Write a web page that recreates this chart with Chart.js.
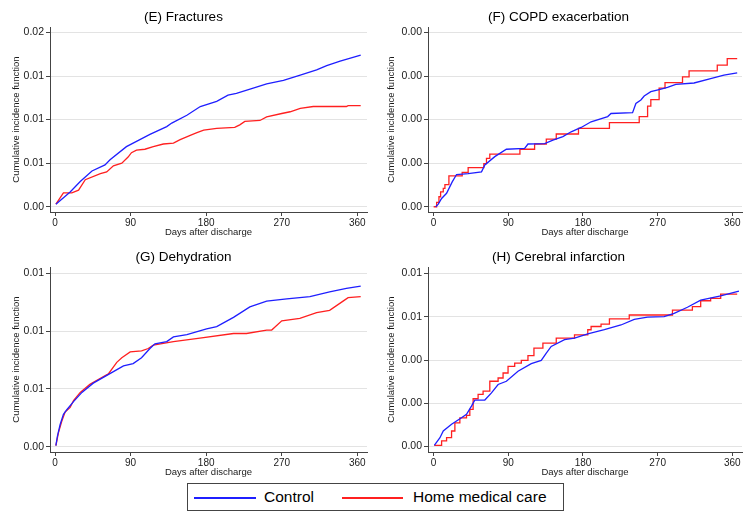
<!DOCTYPE html>
<html>
<head>
<meta charset="utf-8">
<script src="https://cdn.jsdelivr.net/npm/chart.js@4/dist/chart.umd.min.js"></script>
<style>
  body { margin: 0; background: #fff; }
  #wrap { position: relative; width: 750px; height: 514px; background: #fff; }
  canvas { position: absolute; }
  #legend {
    position: absolute; left: 187px; top: 483px; width: 377px; height: 28px;
    border: 1px solid #444; box-sizing: border-box;
    font-family: 'Liberation Sans', Arial, sans-serif; font-size: 15.5px; color: #000;
  }
  .sw { position: absolute; top: 13px; height: 1.5px; }
  .lb { position: absolute; top: 4px; line-height: 18px; }
</style>
</head>
<body>
<div id="wrap">
  <canvas id="pE" width="375" height="240" style="left:0;top:0"></canvas>
  <canvas id="pF" width="375" height="240" style="left:375px;top:0"></canvas>
  <canvas id="pG" width="375" height="240" style="left:0;top:240px"></canvas>
  <canvas id="pH" width="375" height="240" style="left:375px;top:240px"></canvas>
  <div id="legend">
    <div class="sw" style="left:6px;width:62px;background:#1f1fff"></div>
    <div class="lb" style="left:76px">Control</div>
    <div class="sw" style="left:154px;width:61px;background:#ff2020"></div>
    <div class="lb" style="left:225px">Home medical care</div>
  </div>
</div>
<script>
// x axis (days after discharge)
var dayTicks = [0, 90, 180, 270, 360];

// (E) Fractures
var eTicks = [0, 0.005, 0.01, 0.015, 0.02];
var eTickLabels = ['0.00', '0.01', '0.01', '0.01', '0.02'];
var eCtrlDays = [1, 18, 30, 44, 59.5, 65.5, 85, 93, 113, 133, 139, 157, 173, 192.5, 206, 216, 236, 252, 272, 292, 311.5, 323.5, 339.5, 364];
var eCtrlCif = [0.0003, 0.0017, 0.0029, 0.0041, 0.0048, 0.0054, 0.0069, 0.0073, 0.0083, 0.0092, 0.0096, 0.0105, 0.0115, 0.0121, 0.0128, 0.0130, 0.0136, 0.0141, 0.0145, 0.0151, 0.0157, 0.0162, 0.0167, 0.0174];
var eHomeDays = [1, 10, 20, 28, 36, 54, 61.5, 69.5, 79.5, 87, 91, 97, 107, 117, 129, 141, 149, 161, 169, 177, 192.5, 214, 220, 226, 244, 252, 270, 280, 292, 307.5, 347, 349, 364];
var eHomeCif = [0.0003, 0.0016, 0.0016, 0.0019, 0.0031, 0.0038, 0.0040, 0.0047, 0.0050, 0.0057, 0.0062, 0.0065, 0.0066, 0.0069, 0.0072, 0.0073, 0.0077, 0.0082, 0.0085, 0.0088, 0.0090, 0.0091, 0.0094, 0.0098, 0.0099, 0.0103, 0.0107, 0.0109, 0.0113, 0.0115, 0.0115, 0.0116, 0.0116];

// (F) COPD exacerbation
var fTicks = [0, 0.001, 0.002, 0.003, 0.004];
var fTickLabels = ['0.00', '0.00', '0.00', '0.00', '0.00'];
var fCtrlDays = [2.4, 5.6, 9.6, 15.6, 22.4, 27.6, 41.6, 57.7, 61.7, 73.7, 87.7, 109.7, 113.7, 133.8, 143.8, 155.8, 165.8, 177.8, 189.8, 209.8, 213.8, 239.8, 243.8, 249.8, 253.8, 261.8, 271.8, 281.9, 291.9, 313.9, 333.9, 349.9, 365.9];
var fCtrlCif = [0, 0.00006, 0.00019, 0.00031, 0.00057, 0.00074, 0.00076, 0.0008, 0.00096, 0.00115, 0.00132, 0.00134, 0.00144, 0.00145, 0.00153, 0.00161, 0.00172, 0.00182, 0.00195, 0.00207, 0.00214, 0.00216, 0.00237, 0.00245, 0.00254, 0.00264, 0.00269, 0.00274, 0.00281, 0.00284, 0.00294, 0.00302, 0.00307];
var fHomeDays = [0, 3.6, 6.4, 8.4, 11.6, 13.6, 18.4, 34.4, 41.6, 60.5, 63.7, 67.7, 104, 121.7, 135.8, 147.8, 174.6, 211.9, 247.8, 257.9, 261.8, 271.8, 278.9, 300, 307.9, 341.9, 353.9, 365.9];
var fHomeCif = [0, 0.0001, 0.00023, 0.00034, 0.00042, 0.00051, 0.00071, 0.00079, 0.0009, 0.00099, 0.00111, 0.00121, 0.00132, 0.00144, 0.00155, 0.00167, 0.0018, 0.00193, 0.00207, 0.00231, 0.00246, 0.00272, 0.00285, 0.00298, 0.00312, 0.00325, 0.0034, 0.0034];

// (G) Dehydration
var gTicks = [0, 0.005, 0.01, 0.015];
var gTickLabels = ['0.00', '0.01', '0.01', '0.01'];
var gCtrlDays = [1, 2.8, 6, 10, 14, 22, 32, 45.5, 57.5, 69.5, 81.5, 93, 103, 113, 119, 133, 141, 157, 180.5, 192.5, 212.5, 232, 252, 276, 303.5, 327, 347, 364];
var gCtrlCif = [0.0001, 0.0009, 0.0019, 0.0028, 0.0032, 0.0039, 0.0047, 0.0055, 0.0060, 0.0065, 0.0070, 0.0072, 0.0077, 0.0085, 0.0089, 0.0091, 0.0095, 0.0097, 0.0102, 0.0104, 0.0112, 0.0121, 0.0126, 0.0128, 0.0130, 0.0134, 0.0137, 0.0139];
var gHomeDays = [1, 4, 8, 12, 18, 22, 30, 41.5, 53.5, 63.5, 73.5, 79.5, 89.5, 103, 111, 117, 141, 172.5, 212.5, 228, 252, 258, 270, 291.5, 311.5, 327, 343, 349, 364];
var gHomeCif = [0.0001, 0.0012, 0.0022, 0.0030, 0.0034, 0.0040, 0.0047, 0.0054, 0.0059, 0.0063, 0.0073, 0.0077, 0.0082, 0.0083, 0.0085, 0.0088, 0.0091, 0.0094, 0.0098, 0.0098, 0.0101, 0.0101, 0.0109, 0.0111, 0.0116, 0.0118, 0.0126, 0.0129, 0.0130];

// (H) Cerebral infarction
var hTicks = [0, 0.002, 0.004, 0.006, 0.008];
var hTickLabels = ['0.00', '0.00', '0.00', '0.01', '0.01'];
var hCtrlDays = [0.8, 7.6, 11.6, 21.6, 33.6, 39.6, 45.6, 49.6, 61.7, 69.7, 77.7, 87.7, 101.7, 117.7, 129.7, 135.8, 141.7, 157.8, 169.8, 185.8, 205.8, 225.8, 241.8, 257.8, 277.8, 289.9, 305.9, 321.9, 346, 368];
var hCtrlCif = [0.00006, 0.00041, 0.00072, 0.00103, 0.00133, 0.00149, 0.00187, 0.00215, 0.00215, 0.00248, 0.00287, 0.00302, 0.00348, 0.00383, 0.00398, 0.00432, 0.00463, 0.00494, 0.00501, 0.00521, 0.0054, 0.00562, 0.00588, 0.00598, 0.00601, 0.00616, 0.00644, 0.00677, 0.00696, 0.00719];
var hHomeDays = [0.8, 9.6, 15.6, 21.6, 25.6, 31.6, 39.6, 43.6, 47.6, 53.6, 59.6, 67.7, 77.7, 83.7, 89.7, 97.7, 105.7, 113.7, 120.9, 131.7, 147.8, 169.8, 185.8, 189.8, 201.8, 211.9, 235.8, 287.9, 311.9, 321.9, 333.9, 346, 365.9];
var hHomeCif = [0.00006, 0.00026, 0.00041, 0.00072, 0.0011, 0.00133, 0.00144, 0.00172, 0.00221, 0.00241, 0.00256, 0.00302, 0.00317, 0.0034, 0.00371, 0.00386, 0.00398, 0.0042, 0.00455, 0.00478, 0.00501, 0.00516, 0.0054, 0.00555, 0.00566, 0.0059, 0.00608, 0.00631, 0.00647, 0.00674, 0.00685, 0.00705, 0.00705];

Chart.defaults.font.family = "'Liberation Sans', Arial, sans-serif";
Chart.defaults.color = '#1a1a1a';

function pts(days, vals) {
    return days.map(function (d, i) { return { x: d, y: vals[i] }; });
}

function makePanel(id, title, ctrl, home, homeStepped, yTicks, yLabels, yMin, yMax, axisW, xMin, xMax) {
    new Chart(document.getElementById(id), {
        type: 'line',
        data: {
            datasets: [{
                label: 'Control',
                data: ctrl,
                borderColor: '#1f1fff',
                borderWidth: 1.3,
                pointRadius: 0,
                stepped: false
            }, {
                label: 'Home medical care',
                data: home,
                borderColor: '#ff2020',
                borderWidth: 1.3,
                pointRadius: 0,
                stepped: homeStepped
            }]
        },
        options: {
            responsive: false,
            animation: false,
            layout: { padding: { left: 0, right: 8, top: 0, bottom: 0 } },
            plugins: {
                legend: { display: false },
                tooltip: { enabled: false },
                title: {
                    display: true,
                    text: title,
                    color: '#000',
                    font: { size: 13.5, weight: 'normal' },
                    padding: { top: 9, bottom: 2 }
                }
            },
            scales: {
                x: {
                    type: 'linear',
                    min: xMin,
                    max: xMax,
                    afterBuildTicks: function (s) { s.ticks = dayTicks.map(function (v) { return { value: v }; }); },
                    afterFit: function (s) { s.height = 28; },
                    border: { display: true, color: '#444', width: 1 },
                    grid: { drawOnChartArea: false, drawTicks: true, tickLength: 4, tickColor: '#444' },
                    ticks: { font: { size: 10 }, padding: 1, maxRotation: 0, color: '#1a1a1a' },
                    title: {
                        display: true,
                        text: 'Days after discharge',
                        font: { size: 9.5 },
                        padding: { top: 0, bottom: 2 },
                        color: '#1a1a1a'
                    }
                },
                y: {
                    min: yMin,
                    max: yMax,
                    afterBuildTicks: function (s) { s.ticks = yTicks.map(function (v) { return { value: v }; }); },
                    afterFit: function (s) { s.width = axisW; },
                    border: { display: true, color: '#444', width: 1 },
                    grid: { color: '#e3e3e3', lineWidth: 1, drawTicks: true, tickLength: 4, tickColor: '#444' },
                    ticks: {
                        font: { size: 10.5 },
                        padding: 2,
                        color: '#1a1a1a',
                        callback: function (v, i) { return yLabels[i]; }
                    },
                    title: {
                        display: true,
                        text: 'Cumulative incidence function',
                        font: { size: 9.5 },
                        padding: { top: 11, bottom: 0 },
                        color: '#1a1a1a'
                    }
                }
            }
        }
    });
}

makePanel('pE', '(E) Fractures', pts(eCtrlDays, eCtrlCif), pts(eHomeDays, eHomeCif), false,
    eTicks, eTickLabels, -0.0006, 0.0206, 50, -6, 371.5);
makePanel('pF', '(F) COPD exacerbation', pts(fCtrlDays, fCtrlCif), pts(fHomeDays, fHomeCif), true,
    fTicks, fTickLabels, -0.00012, 0.00412, 53, -6.8, 371.7);
makePanel('pG', '(G) Dehydration', pts(gCtrlDays, gCtrlCif), pts(gHomeDays, gHomeCif), false,
    gTicks, gTickLabels, -0.00046, 0.01554, 50, -6, 371.5);
makePanel('pH', '(H) Cerebral infarction', pts(hCtrlDays, hCtrlCif), pts(hHomeDays, hHomeCif), true,
    hTicks, hTickLabels, -0.00025, 0.00829, 53, -6.8, 371.7);
</script>
</body>
</html>
